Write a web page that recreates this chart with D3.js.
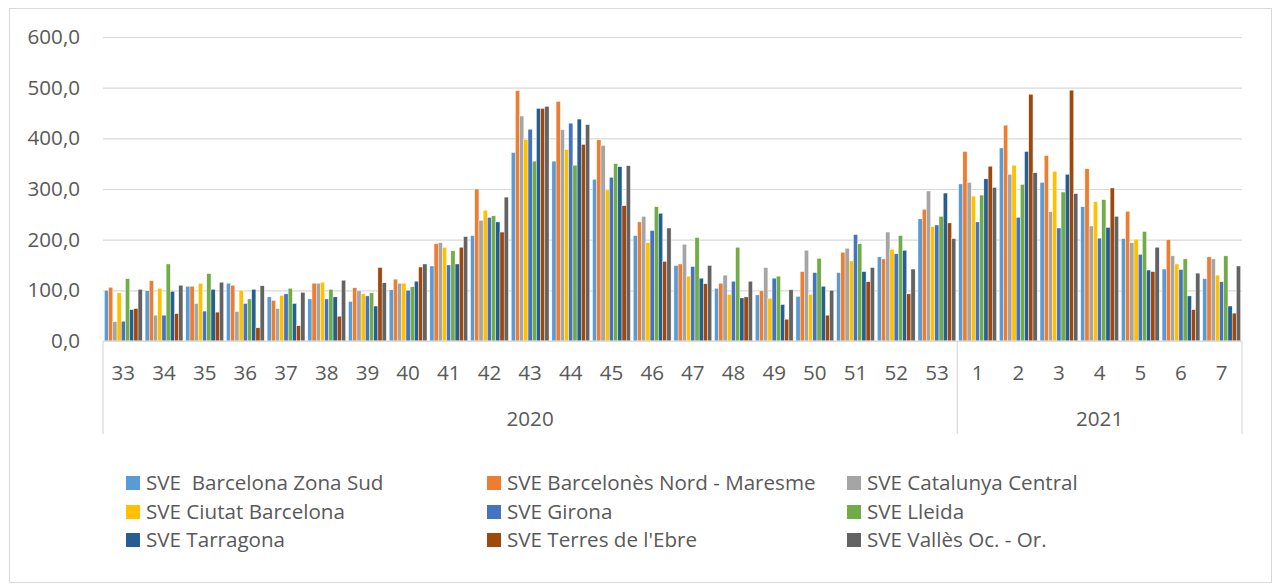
<!DOCTYPE html>
<html>
<head>
<meta charset="utf-8">
<script src="https://cdn.jsdelivr.net/npm/d3@7"></script>
<style>
  body { margin: 0; background: #fff; }
  text { font-family: "Open Sans", "Noto Sans", sans-serif; fill: #595959; }
  .grid line { stroke: #d9d9d9; stroke-width: 1.2; }
  .grid path { display: none; }
</style>
</head>
<body>
<script>
// weeks (level 1) and years (level 2) of the category axis
const weeks = ["33","34","35","36","37","38","39","40","41","42","43","44","45","46","47","48","49","50","51","52","53","1","2","3","4","5","6","7"];
const years = [{label: "2020", from: 0, to: 21}, {label: "2021", from: 21, to: 28}];
const yTicks = [0, 100, 200, 300, 400, 500, 600];

const seriesNames = ["SVE  Barcelona Zona Sud", "SVE Barcelonès Nord - Maresme", "SVE Catalunya Central",
                     "SVE Ciutat Barcelona", "SVE Girona", "SVE Lleida",
                     "SVE Tarragona", "SVE Terres de l'Ebre", "SVE Vallès Oc. - Or."];
const colors = ["#5b9bd5", "#ed7d31", "#a5a5a5", "#ffc000", "#4472c4", "#70ad47", "#255e91", "#9e480e", "#636363"];

const zonaSud          = [100, 99,108,114, 87, 83, 78,101,148,208,372,355,319,208,149,104, 91, 88,135,166,241,310,381,313,265,202,142,123];
const barcelonesNord   = [106,119,108,110, 80,114,105,122,192,300,494,473,397,235,152,114, 99,137,175,162,260,374,426,366,340,256,200,166];
const catalunyaCentral = [ 38, 51, 74, 58, 64,114, 99,114,194,238,444,417,386,246,191,130,145,179,183,215,296,313,329,255,227,194,168,162];
const ciutatBarcelona  = [ 95,104,114,100, 90,116, 93,114,185,258,398,378,298,194,128, 92, 84, 92,158,181,226,286,347,335,275,201,152,130];
const girona           = [ 39, 51, 59, 74, 93, 83, 89,100,150,244,418,430,323,218,147,118,124,135,210,172,229,235,244,223,203,171,141,117];
const lleida           = [123,152,133, 83,104,102, 95,107,178,247,355,347,350,265,204,185,128,163,192,208,246,288,309,294,279,216,162,168];
const tarragona        = [ 62, 98,102,102, 74, 87, 69,118,152,235,459,438,344,252,124, 85, 72,108,137,179,292,320,374,329,224,140, 89, 69];
const terresEbre       = [ 64, 54, 57, 26, 30, 49,145,146,185,215,459,388,267,157,113, 87, 43, 51,117, 93,233,345,487,495,302,137, 62, 55];
const vallesOcOr       = [102,110,116,109, 96,120,115,152,206,284,463,427,346,223,149,118,101,100,145,142,202,303,332,291,246,185,134,148];

const seriesValues = [zonaSud, barcelonesNord, catalunyaCentral, ciutatBarcelona, girona, lleida, tarragona, terresEbre, vallesOcOr];

let svg = null, plot = null;
let margin, width, height;
let x0, x1, y;
const fontSize = "20.6px";
const fmt = d3.formatLocale({decimal: ",", thousands: ".", grouping: [3], currency: ["", ""]}).format(".1f");

setupCanvasSize();
appendSvg("body");
setupScales();
appendGrid();
appendBars();
appendCategoryAxis();
appendLegend();

function setupCanvasSize() {
  margin = {top: 37, left: 103, right: 34, bottom: 246};
  width = 1276 - margin.left - margin.right;
  height = 587 - margin.top - margin.bottom;
}

function appendSvg(domElement) {
  svg = d3.select(domElement).append("svg")
      .attr("width", 1276)
      .attr("height", 587);
  // chart area border
  svg.append("rect")
      .attr("x", 9.5).attr("y", 8.5)
      .attr("width", 1262).attr("height", 574)
      .attr("fill", "#fff")
      .attr("stroke", "#d9d9d9");
  plot = svg.append("g")
      .attr("transform", `translate(${margin.left}, ${margin.top})`);
}

function setupScales() {
  x0 = d3.scaleBand().domain(d3.range(weeks.length)).range([0, width]).paddingInner(0.07).paddingOuter(0.035);
  x1 = d3.scaleBand().domain(d3.range(seriesNames.length)).range([0, x0.bandwidth()]);
  y = d3.scaleLinear().domain([0, 600]).range([height, 0]);
}

function appendGrid() {
  const g = plot.append("g")
      .attr("class", "grid")
      .call(d3.axisLeft(y).tickValues(yTicks).tickSize(-width).tickFormat(fmt).tickPadding(23));
  g.selectAll("text").style("font-size", fontSize).attr("fill", "#595959");
}

function appendBars() {
  const groups = plot.selectAll(".week")
      .data(weeks)
      .enter().append("g")
      .attr("class", "week")
      .attr("transform", (d, i) => `translate(${x0(i)}, 0)`);
  groups.selectAll("rect")
      .data((d, i) => seriesValues.map((s, k) => ({k: k, v: s[i]})))
      .enter().append("rect")
      .attr("x", d => x1(d.k))
      .attr("width", x1.bandwidth())
      .attr("y", d => y(d.v))
      .attr("height", d => y(0) - y(d.v))
      .attr("fill", d => colors[d.k])
      .attr("stroke", "#fff")
      .attr("stroke-width", 0.4);
}

function appendCategoryAxis() {
  const axis = plot.append("g").attr("transform", `translate(0, ${height})`);
  axis.append("line").attr("x1", 0).attr("x2", width).attr("stroke", "#d9d9d9").attr("stroke-width", 1.2);
  // week labels
  axis.selectAll(".wk")
      .data(weeks)
      .enter().append("text")
      .attr("x", (d, i) => x0(i) + x0.bandwidth() / 2)
      .attr("y", 32)
      .attr("dy", "0.35em")
      .attr("text-anchor", "middle")
      .style("font-size", fontSize)
      .text(d => d);
  // year separators and labels
  const step = x0.step();
  const edges = [0].concat(years.map(yr => yr.to));
  axis.selectAll(".sep")
      .data(edges)
      .enter().append("line")
      .attr("x1", d => d * step).attr("x2", d => d * step)
      .attr("y1", 0).attr("y2", 93)
      .attr("stroke", "#d9d9d9").attr("stroke-width", 1.2);
  axis.selectAll(".yr")
      .data(years)
      .enter().append("text")
      .attr("x", d => (d.from + d.to) / 2 * step)
      .attr("y", 78)
      .attr("dy", "0.35em")
      .attr("text-anchor", "middle")
      .style("font-size", fontSize)
      .text(d => d.label);
}

function appendLegend() {
  const colX = [126, 487, 847];
  const rowY = [483, 512, 540];
  const items = svg.selectAll(".legend")
      .data(seriesNames)
      .enter().append("g")
      .attr("transform", (d, i) => `translate(${colX[i % 3]}, ${rowY[Math.floor(i / 3)]})`);
  items.append("rect")
      .attr("x", 0).attr("y", -7)
      .attr("width", 14).attr("height", 14)
      .attr("fill", (d, i) => colors[i]);
  items.append("text")
      .attr("x", 20)
      .attr("dy", "0.35em")
      .style("font-size", fontSize)
      .style("white-space", "pre")
      .attr("xml:space", "preserve")
      .text(d => d);
}
</script>
</body>
</html>
